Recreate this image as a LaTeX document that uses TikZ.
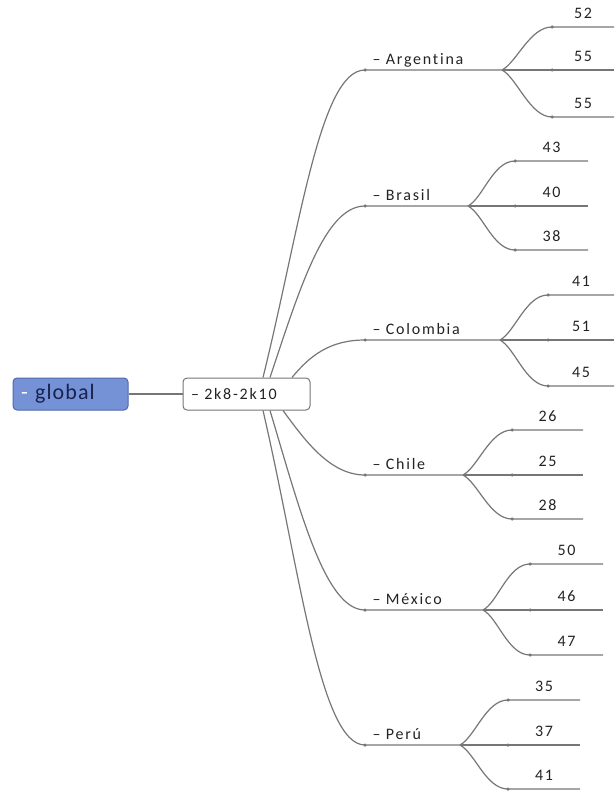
\documentclass[tikz,border=0pt]{standalone}
\usepackage{fontspec}
\setmainfont{Carlito}[LetterSpace=11, Ligatures=NoCommon]
\newfontfamily\rootfont{Carlito}[LetterSpace=5, Ligatures=NoCommon]
\usetikzlibrary{positioning, calc}
\definecolor{rootblue}{RGB}{118,146,214}
\definecolor{rootedge}{RGB}{80,104,170}
\definecolor{rootink}{RGB}{24,34,80}
\definecolor{branchgray}{RGB}{118,118,118}
\definecolor{labelink}{RGB}{35,35,35}

\begin{document}
\begin{tikzpicture}[x=1pt, y=-1pt,
root/.style={rectangle, rounded corners=4pt, draw=rootedge, fill=rootblue, line width=1pt, minimum height=32pt, inner xsep=8pt, text width=99pt, align=left, font=\rootfont\fontsize{22}{24}\selectfont, text=rootink},
period/.style={rectangle, rounded corners=4pt, draw=branchgray, fill=white, line width=1pt, minimum height=32pt, inner xsep=8pt, text width=111pt, align=left, font=\fontsize{16}{18}\selectfont, text=labelink},
country/.style={inner sep=0pt, text height=11pt, text depth=3pt, font=\fontsize{16}{18}\selectfont, text=labelink},
value/.style={inner sep=0pt, font=\fontsize{16}{18}\selectfont, text=labelink},
link/.style={draw=branchgray, line width=1.2pt},
knot/.style={circle, fill=branchgray, inner sep=0pt, minimum size=3.5pt} ]
\useasboundingbox (0,0) rectangle (614,794);

\node (global) [root] at (70.5,394) {\textcolor{white}{-} global};
\node (span) [period] at (246.5,394) {-- 2k8-2k10};
\draw[link] (global) -- (span);

% Argentina
\node (arg) [knot] at (365,70) {};
\coordinate (argB) at (502,70);
\node (a1) [knot] at (552,27) {};
\node (a2) [knot] at (552,70) {};
\node (a3) [knot] at (552,117) {};
\coordinate (a1e) at (614,27);
\coordinate (a2e) at (614,70);
\coordinate (a3e) at (614,117);
\node (argL) [country, above right=1.25pt and 6pt of arg] {-- Argentina};
\draw[link] ([xshift=16.5pt]span.north) .. controls +(37,-150) and +(-45,0) .. (arg.center) -- (argB);
\draw[link] (argB) .. controls +(15,-8) and +(-22,0) .. (a1.center) -- node (a1v) [value, above=8pt] {52} (a1e);
\draw[link] (argB) -- (a2.center) -- node (a2v) [value, above=8pt] {55} (a2e);
\draw[link] (argB) .. controls +(15,8) and +(-22,0) .. (a3.center) -- node (a3v) [value, above=8pt] {55} (a3e);

% Brasil
\node (bra) [knot] at (365,206) {};
\coordinate (braB) at (468,206);
\node (b1) [knot] at (515,161) {};
\node (b2) [knot] at (515,206) {};
\node (b3) [knot] at (515,250) {};
\coordinate (b1e) at (588,161);
\coordinate (b2e) at (588,206);
\coordinate (b3e) at (588,250);
\node (braL) [country, above right=1.25pt and 6pt of bra] {-- Brasil};
\draw[link] ([xshift=23.5pt]span.north) .. controls +(30,-90) and +(-40,0) .. (bra.center) -- (braB);
\draw[link] (braB) .. controls +(15,-8) and +(-22,0) .. (b1.center) -- node (b1v) [value, above=8pt] {43} (b1e);
\draw[link] (braB) -- (b2.center) -- node (b2v) [value, above=8pt] {40} (b2e);
\draw[link] (braB) .. controls +(15,8) and +(-22,0) .. (b3.center) -- node (b3v) [value, above=8pt] {38} (b3e);

% Colombia
\node (col) [knot] at (365,340) {};
\coordinate (colB) at (500,340);
\node (c1) [knot] at (548,295) {};
\node (c2) [knot] at (548,340) {};
\node (c3) [knot] at (548,386) {};
\coordinate (c1e) at (614,295);
\coordinate (c2e) at (614,340);
\coordinate (c3e) at (614,386);
\node (colL) [country, above right=1.25pt and 6pt of col] {-- Colombia};
\draw[link] ([xshift=45.5pt]span.north) .. controls +(18,-22) and +(-35,0) .. (col.center) -- (colB);
\draw[link] (colB) .. controls +(15,-8) and +(-22,0) .. (c1.center) -- node (c1v) [value, above=8pt] {41} (c1e);
\draw[link] (colB) -- (c2.center) -- node (c2v) [value, above=8pt] {51} (c2e);
\draw[link] (colB) .. controls +(15,8) and +(-22,0) .. (c3.center) -- node (c3v) [value, above=8pt] {45} (c3e);

% Chile
\node (chi) [knot] at (365,475) {};
\coordinate (chiB) at (463,475);
\node (h1) [knot] at (512,430) {};
\node (h2) [knot] at (512,475) {};
\node (h3) [knot] at (512,519) {};
\coordinate (h1e) at (583,430);
\coordinate (h2e) at (583,475);
\coordinate (h3e) at (583,519);
\node (chiL) [country, above right=1.25pt and 6pt of chi] {-- Chile};
\draw[link] ([xshift=36.5pt]span.south) .. controls +(22,30) and +(-35,0) .. (chi.center) -- (chiB);
\draw[link] (chiB) .. controls +(15,-8) and +(-22,0) .. (h1.center) -- node (h1v) [value, above=8pt] {26} (h1e);
\draw[link] (chiB) -- (h2.center) -- node (h2v) [value, above=8pt] {25} (h2e);
\draw[link] (chiB) .. controls +(15,8) and +(-22,0) .. (h3.center) -- node (h3v) [value, above=8pt] {28} (h3e);

% Mexico
\node (mex) [knot] at (365,610) {};
\coordinate (mexB) at (483,610);
\node (m1) [knot] at (530,564) {};
\node (m2) [knot] at (530,610) {};
\node (m3) [knot] at (530,655) {};
\coordinate (m1e) at (603,564);
\coordinate (m2e) at (603,610);
\coordinate (m3e) at (603,655);
\node (mexL) [country, above right=1.25pt and 6pt of mex] {-- México};
\draw[link] ([xshift=23.5pt]span.south) .. controls +(30,100) and +(-40,0) .. (mex.center) -- (mexB);
\draw[link] (mexB) .. controls +(15,-8) and +(-22,0) .. (m1.center) -- node (m1v) [value, above=8pt] {50} (m1e);
\draw[link] (mexB) -- (m2.center) -- node (m2v) [value, above=8pt] {46} (m2e);
\draw[link] (mexB) .. controls +(15,8) and +(-22,0) .. (m3.center) -- node (m3v) [value, above=8pt] {47} (m3e);

% Peru
\node (per) [knot] at (365,745) {};
\coordinate (perB) at (460,745);
\node (p1) [knot] at (508,700) {};
\node (p2) [knot] at (508,745) {};
\node (p3) [knot] at (508,789) {};
\coordinate (p1e) at (580,700);
\coordinate (p2e) at (580,745);
\coordinate (p3e) at (580,789);
\node (perL) [country, above right=1.25pt and 6pt of per] {-- Perú};
\draw[link] ([xshift=16.5pt]span.south) .. controls +(37,160) and +(-45,0) .. (per.center) -- (perB);
\draw[link] (perB) .. controls +(15,-8) and +(-22,0) .. (p1.center) -- node (p1v) [value, above=8pt] {35} (p1e);
\draw[link] (perB) -- (p2.center) -- node (p2v) [value, above=8pt] {37} (p2e);
\draw[link] (perB) .. controls +(15,8) and +(-22,0) .. (p3.center) -- node (p3v) [value, above=8pt] {41} (p3e);

\end{tikzpicture}
\end{document}
